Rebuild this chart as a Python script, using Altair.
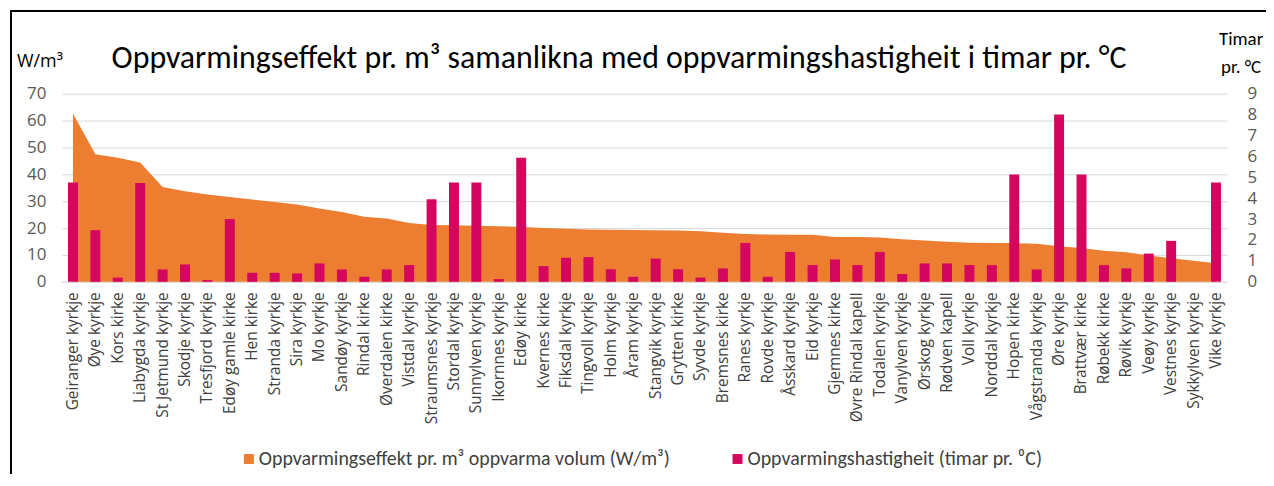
import altair as alt
import pandas as pd

churches = [
    "Geiranger kyrkje", "Øye kyrkje", "Kors kirke", "Liabygda kyrkje", "St Jetmund kyrkje",
    "Skodje kyrkje", "Tresfjord kyrkje", "Edøy gamle kirke", "Hen kirke", "Stranda kyrkje",
    "Sira kyrkje", "Mo kyrkje", "Sandøy kyrkje", "Rindal kirke", "Øverdalen kirke",
    "Vistdal kyrkje", "Straumsnes kyrkje", "Stordal kyrkje", "Sunnylven kyrkje", "Ikornnes kyrkje",
    "Edøy kirke", "Kvernes kirke", "Fiksdal kyrkje", "Tingvoll kyrkje", "Holm kyrkje",
    "Åram kyrkje", "Stangvik kyrkje", "Grytten kirke", "Syvde kyrkje", "Bremsnes kirke",
    "Ranes kyrkje", "Rovde kyrkje", "Åsskard kyrkje", "Eid kyrkje", "Gjemnes kirke",
    "Øvre Rindal kapell", "Todalen kyrkje", "Vanylven kyrkje", "Ørskog kyrkje", "Rødven kapell",
    "Voll kyrkje", "Norddal kyrkje", "Hopen kirke", "Vågstranda kyrkje", "Øre kyrkje",
    "Brattvær kirke", "Røbekk kirke", "Røvik kyrkje", "Veøy kyrkje", "Vestnes kyrkje",
    "Sykkylven kyrkje", "Vike kyrkje",
]

effekt = [62.6, 47.5, 46.2, 44.4, 35.3, 33.7, 32.5, 31.6, 30.6, 29.7,
          28.8, 27.3, 26.0, 24.2, 23.6, 21.9, 21.1, 21.0, 20.9, 20.7,
          20.4, 20.0, 19.7, 19.5, 19.4, 19.3, 19.2, 19.1, 18.8, 18.3,
          17.8, 17.6, 17.5, 17.5, 16.7, 16.7, 16.5, 15.8, 15.4, 14.9,
          14.5, 14.4, 14.4, 14.2, 13.2, 12.6, 11.6, 11.0, 9.8, 8.8,
          7.8, 6.9]

hastigheit = [4.75, 2.47, 0.2, 4.73, 0.59, 0.83, 0.08, 3.0, 0.43, 0.43,
              0.4, 0.88, 0.59, 0.24, 0.59, 0.8, 3.95, 4.75, 4.75, 0.13,
              5.94, 0.75, 1.15, 1.18, 0.6, 0.24, 1.11, 0.6, 0.2, 0.64,
              1.86, 0.24, 1.43, 0.8, 1.07, 0.8, 1.43, 0.37, 0.88, 0.88,
              0.8, 0.8, 5.13, 0.59, 8.0, 5.13, 0.8, 0.64, 1.35, 1.96,
              0.0, 4.75]

left_ticks = [0, 10, 20, 30, 40, 50, 60, 70]
right_ticks = [0, 1, 2, 3, 4, 5, 6, 7, 8, 9]

AREA_LABEL = "Oppvarmingseffekt pr. m³ oppvarma volum  (W/m³)"
BAR_LABEL = "Oppvarmingshastigheit (timar pr. ⁰C)"
TITLE = "Oppvarmingseffekt pr. m³ samanlikna med oppvarmingshastigheit i timar pr. °C"

ORANGE = "#ED7D31"
MAGENTA = "#D4065E"
NARROW = "Carlito, Liberation Sans Narrow, DejaVu Sans Condensed, sans-serif"
LABEL_FONT = "Open Sans"

df = pd.DataFrame({"kyrkje": churches, "effekt": effekt, "timar": hastigheit})

color_scale = alt.Scale(domain=[AREA_LABEL, BAR_LABEL], range=[ORANGE, MAGENTA])
legend = alt.Legend(
    title=None, orient="none", legendX=178, legendY=357, direction="horizontal",
    symbolType="square", symbolSize=100, symbolOpacity=1, symbolStrokeWidth=0,
    labelFont=NARROW, labelFontSize=20, labelColor="#404040", columnPadding=53,
    labelOffset=0, labelLimit=600,
)

x_enc = alt.X(
    "kyrkje:N", sort=churches, title=None,
    axis=alt.Axis(labelAngle=-90, labelAlign="right", labelBaseline="middle",
                  labelFont=LABEL_FONT, labelFontSize=15.5, labelColor="#404040",
                  labelPadding=10, ticks=False, domainColor="#D9D9D9", labelLimit=300),
)

area = alt.Chart(df).transform_calculate(serie=f"'{AREA_LABEL}'").mark_area(opacity=1).encode(
    x=x_enc,
    y=alt.Y("effekt:Q", title=None,
            scale=alt.Scale(domain=[0, 70], nice=False),
            axis=alt.Axis(values=left_ticks, grid=True, gridColor="#D9D9D9", domain=False,
                          ticks=False, labelFont=LABEL_FONT, labelFontSize=17,
                          labelColor="#595959", labelPadding=16)),
    color=alt.Color("serie:N", scale=color_scale, legend=legend),
)

bars = alt.Chart(df).transform_calculate(serie=f"'{BAR_LABEL}'").mark_bar(size=10).encode(
    x=x_enc,
    y=alt.Y("timar:Q", title=None,
            scale=alt.Scale(domain=[0, 9], nice=False),
            axis=alt.Axis(orient="right", values=right_ticks, grid=False, domain=False,
                          ticks=False, labelFont=LABEL_FONT, labelFontSize=17,
                          labelColor="#595959", labelPadding=20)),
    color=alt.Color("serie:N", scale=color_scale, legend=legend),
)

one = pd.DataFrame({"t": [TITLE]})

title = alt.Chart(one).mark_text(font=NARROW, fontSize=32, color="#000000", align="center",
                                 baseline="middle", fontWeight="normal").encode(
    text="t:N", x=alt.value(560), y=alt.value(-36))

unit_left = alt.Chart(pd.DataFrame({"t": ["W/m³"]})).mark_text(
    font=LABEL_FONT, fontSize=18, color="#000000", align="left", baseline="middle").encode(
    text="t:N", x=alt.value(-45), y=alt.value(-32))

unit_right = alt.Chart(pd.DataFrame({"t": ["Timar", "pr. °C"], "yy": [-55, -27]})).mark_text(
    font=NARROW, fontSize=19, color="#000000", align="center", baseline="middle").encode(
    text="t:N", x=alt.value(1185), y=alt.Y("yy:Q", scale=None))

frame_left = alt.Chart(one).mark_rule(color="#000000", strokeWidth=2).encode(
    x=alt.value(-51), y=alt.value(-83), y2=alt.value(400))
frame_top = alt.Chart(one).mark_rule(color="#000000", strokeWidth=2).encode(
    x=alt.value(-52), x2=alt.value(1300), y=alt.value(-83))

chart = alt.layer(area, bars, title, unit_left, unit_right, frame_left, frame_top).resolve_scale(
    y="independent"
).properties(
    width=1171, height=189,
    autosize=alt.AutoSizeParams(type="none"),
    padding={"left": 54, "top": 85, "right": 39, "bottom": 192},
    background="white",
).configure_view(stroke=None)

chart.save("out.html", embed_options={"renderer": "svg", "actions": False})
